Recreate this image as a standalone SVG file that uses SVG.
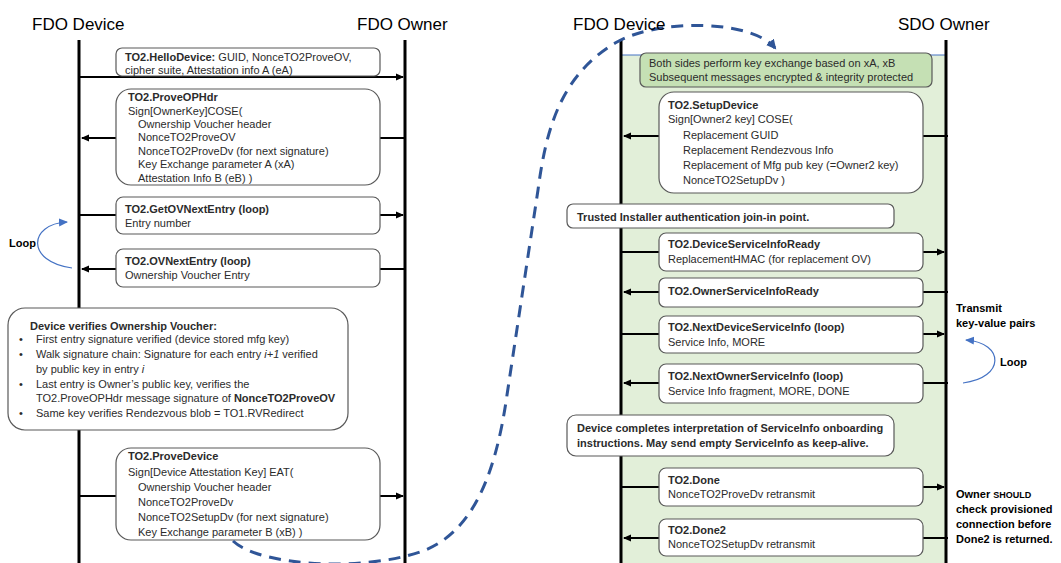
<svg xmlns="http://www.w3.org/2000/svg" width="1061" height="563" viewBox="0 0 1061 563">
<style>
text{font-family:"Liberation Sans",Arial,sans-serif;font-size:11px;fill:#2b2b2b}
.b{font-weight:bold}
.h{font-size:17px;fill:#000000}
.life{stroke:#000000;stroke-width:3;fill:none}
.msg{stroke:#000000;stroke-width:2;fill:none}
.box{fill:#ffffff;stroke:#595959;stroke-width:1.2}
.loop{stroke:#4472c4;stroke-width:1.2;fill:none}
.bk{font-weight:bold;fill:#000000}
</style>
<defs>
<marker id="ah" markerUnits="userSpaceOnUse" markerWidth="8" markerHeight="8" refX="7" refY="4" orient="auto">
<path d="M0,0.5 L8,4 L0,7.5 z" fill="#000000"/>
</marker>
<marker id="bh" markerUnits="userSpaceOnUse" markerWidth="10" markerHeight="10" refX="8" refY="4" orient="auto">
<path d="M0,0 L9,4 L0,8 z" fill="#4472c4"/>
</marker>
<marker id="dh" markerUnits="userSpaceOnUse" markerWidth="12" markerHeight="12" refX="8" refY="5" orient="auto">
<path d="M0,0 L10,5 L0,10 z" fill="#2f5597"/>
</marker>
</defs>
<rect width="1061" height="563" fill="#ffffff"/>

<!-- green region -->
<rect x="621" y="55" width="325" height="508" fill="#e2efd9"/>
<line x1="621" y1="55" x2="947" y2="55" stroke="#4472c4" stroke-width="1"/>

<g id="lifelines">
<line class="life" x1="79" y1="40" x2="79" y2="563"/>
<line class="life" x1="405" y1="40" x2="405" y2="563"/>
<line class="life" x1="621" y1="40" x2="621" y2="563"/>
<line class="life" x1="946" y1="40" x2="946" y2="563"/>
</g>

<g id="connectors">
<line class="msg" x1="80" y1="77" x2="403" y2="77" marker-end="url(#ah)"/>
<line class="msg" x1="404" y1="138" x2="82" y2="138" marker-end="url(#ah)"/>
<line class="msg" x1="80" y1="215" x2="403" y2="215" marker-end="url(#ah)"/>
<line class="msg" x1="404" y1="269" x2="82" y2="269" marker-end="url(#ah)"/>
<line class="msg" x1="80" y1="496" x2="403" y2="496" marker-end="url(#ah)"/>
<line class="msg" x1="948" y1="136" x2="624" y2="136" marker-end="url(#ah)"/>
<line class="msg" x1="622" y1="252" x2="944" y2="252" marker-end="url(#ah)"/>
<line class="msg" x1="948" y1="292" x2="624" y2="292" marker-end="url(#ah)"/>
<line class="msg" x1="622" y1="334" x2="944" y2="334" marker-end="url(#ah)"/>
<line class="msg" x1="948" y1="383" x2="624" y2="383" marker-end="url(#ah)"/>
<line class="msg" x1="622" y1="487" x2="944" y2="487" marker-end="url(#ah)"/>
<line class="msg" x1="948" y1="538" x2="624" y2="538" marker-end="url(#ah)"/>
<path class="loop" d="M72,268 C26,262 28,224 67,222" marker-end="url(#bh)"/>
<path class="loop" d="M963,383 C1005,378 1005,343 966,340" marker-end="url(#bh)"/>
</g>

<g id="hello">
<rect class="box" x="116" y="48" width="264" height="28" rx="6"/>
<text x="125" y="61"><tspan class="b">TO2.HelloDevice:</tspan> GUID, NonceTO2ProveOV,</text>
<text x="125" y="74">cipher suite, Attestation info A (eA)</text>
</g>

<g id="proveophdr">
<rect class="box" x="116" y="89" width="264" height="96" rx="15"/>
<text x="128" y="101" class="b">TO2.ProveOPHdr</text>
<text x="128" y="115">Sign[OwnerKey]COSE(</text>
<text x="138" y="128">Ownership Voucher header</text>
<text x="138" y="141">NonceTO2ProveOV</text>
<text x="138" y="155">NonceTO2ProveDv (for next signature)</text>
<text x="138" y="168">Key Exchange parameter A (xA)</text>
<text x="138" y="182">Attestation Info B  (eB) )</text>
</g>

<g id="getovnext">
<rect class="box" x="116" y="197" width="264" height="37" rx="7"/>
<text x="125" y="213" class="b">TO2.GetOVNextEntry (loop)</text>
<text x="125" y="227">Entry number</text>
</g>

<g id="ovnext">
<rect class="box" x="116" y="249" width="264" height="38" rx="7"/>
<text x="125" y="265" class="b">TO2.OVNextEntry (loop)</text>
<text x="125" y="279">Ownership Voucher Entry</text>
</g>

<g id="loop-left">
<text x="9" y="247" class="bk">Loop</text>
</g>

<g id="verify">
<rect class="box" x="8" y="308" width="340" height="122" rx="17"/>
<text x="30" y="330" class="b">Device verifies Ownership Voucher:</text>
<text x="19" y="343">•</text><text x="36" y="343">First entry signature verified (device stored mfg key)</text>
<text x="19" y="358">•</text><text x="36" y="358">Walk signature chain: Signature for each entry <tspan font-style="italic">i+1</tspan> verified</text>
<text x="36" y="373">by public key in entry <tspan font-style="italic">i</tspan></text>
<text x="19" y="388">•</text><text x="36" y="388">Last entry is Owner’s public key, verifies the</text>
<text x="36" y="402">TO2.ProveOPHdr message signature of <tspan class="b">NonceTO2ProveOV</tspan></text>
<text x="19" y="417">•</text><text x="36" y="417">Same key verifies Rendezvous blob = TO1.RVRedirect</text>
</g>

<g id="provedevice">
<rect class="box" x="116" y="448" width="264" height="92" rx="15"/>
<text x="128" y="460" class="b">TO2.ProveDevice</text>
<text x="128" y="476">Sign[Device Attestation Key] EAT(</text>
<text x="138" y="491">Ownership Voucher header</text>
<text x="138" y="506">NonceTO2ProveDv</text>
<text x="138" y="521">NonceTO2SetupDv (for next signature)</text>
<text x="138" y="536">Key Exchange parameter B (xB)   )</text>
</g>

<g id="keyexchange">
<rect x="640" y="53" width="292" height="34" rx="6" fill="#c5e0b4" stroke="#595959" stroke-width="1.2"/>
<text x="649" y="67">Both sides perform key exchange based on xA, xB</text>
<text x="649" y="81">Subsequent messages encrypted &amp; integrity protected</text>
</g>

<g id="setupdevice">
<rect class="box" x="659" y="92" width="264" height="101" rx="15"/>
<text x="668" y="109" class="b">TO2.SetupDevice</text>
<text x="668" y="123">Sign[Owner2 key] COSE(</text>
<text x="683" y="139">Replacement GUID</text>
<text x="683" y="154">Replacement Rendezvous Info</text>
<text x="683" y="169">Replacement of Mfg pub key (=Owner2 key)</text>
<text x="683" y="184">NonceTO2SetupDv )</text>
</g>

<g id="trusted">
<rect class="box" x="567" y="204" width="327" height="24" rx="6"/>
<text x="577" y="221" class="b">Trusted Installer authentication join-in point.</text>
</g>

<g id="dsir">
<rect class="box" x="659" y="233" width="264" height="38" rx="7"/>
<text x="668" y="248" class="b">TO2.DeviceServiceInfoReady</text>
<text x="668" y="263">ReplacementHMAC (for replacement OV)</text>
</g>

<g id="osir">
<rect class="box" x="659" y="278" width="264" height="29" rx="6"/>
<text x="668" y="295" class="b">TO2.OwnerServiceInfoReady</text>
</g>

<g id="ndsi">
<rect class="box" x="659" y="316" width="264" height="37" rx="7"/>
<text x="668" y="331" class="b">TO2.NextDeviceServiceInfo (loop)</text>
<text x="668" y="346">Service Info, MORE</text>
</g>

<g id="nosi">
<rect class="box" x="659" y="364" width="264" height="39" rx="7"/>
<text x="668" y="380" class="b">TO2.NextOwnerServiceInfo (loop)</text>
<text x="668" y="395">Service Info fragment, MORE, DONE</text>
</g>

<g id="completes">
<rect class="box" x="567" y="415" width="327" height="41" rx="9"/>
<text x="577" y="432" class="b">Device completes interpretation of ServiceInfo onboarding</text>
<text x="577" y="447" class="b">instructions.  May send empty ServiceInfo as keep-alive.</text>
</g>

<g id="done">
<rect class="box" x="659" y="468" width="264" height="38" rx="7"/>
<text x="668" y="484" class="b">TO2.Done</text>
<text x="668" y="498">NonceTO2ProveDv retransmit</text>
</g>

<g id="done2">
<rect class="box" x="659" y="519" width="264" height="37" rx="7"/>
<text x="668" y="534" class="b">TO2.Done2</text>
<text x="668" y="548">NonceTO2SetupDv retransmit</text>
</g>

<g id="notes-right">
<text x="956" y="312" class="bk">Transmit</text>
<text x="956" y="327" class="bk">key-value pairs</text>
<text x="1000" y="366" class="bk">Loop</text>
<text x="956" y="498" class="bk">Owner <tspan font-size="9">SHOULD</tspan></text>
<text x="956" y="513" class="bk">check provisioned</text>
<text x="956" y="528" class="bk">connection before</text>
<text x="956" y="543" class="bk">Done2 is returned.</text>
</g>

<g id="flow">
<path d="M233,541 C260,566 360,572 420,552 C470,535 495,480 507,395 L538,190 C546,130 560,75 617,42 C660,18 752,20 775,48" fill="none" stroke="#2f5597" stroke-width="3" stroke-dasharray="12 8" marker-end="url(#dh)"/>
</g>

<g id="titles">
<text x="32" y="30" class="h">FDO Device</text>
<text x="357" y="30" class="h">FDO Owner</text>
<text x="573" y="30" class="h">FDO Device</text>
<text x="898" y="30" class="h">SDO Owner</text>
</g>
</svg>
